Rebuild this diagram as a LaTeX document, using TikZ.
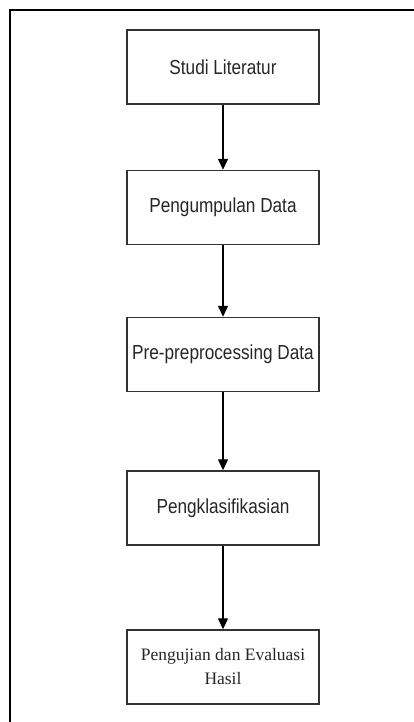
\documentclass[tikz,border=0pt]{standalone}
\usepackage{fontspec}
\setmainfont{Liberation Sans}
\newfontfamily\serifbox{Liberation Serif}
\usetikzlibrary{arrows.meta}
\newcommand{\tallt}[1]{\scalebox{1}[1.18]{#1}}
\begin{document}
\begin{tikzpicture}[x=1pt,y=-1pt,
  stepbox/.style={draw=black!80,line width=1.4pt,minimum width=192pt,minimum height=74pt,inner sep=0pt,text=black!85,font=\fontsize{17.2}{21}\selectfont,align=center},
  flow/.style={line width=1.3pt,-{Triangle[width=10pt,length=11pt]}}]
\useasboundingbox (0,0) rectangle (413,722);
\draw[line width=1.3pt] (10,740) -- (10,10) -- (430,10);
\node[stepbox] (s1) at (223,67) {\tallt{Studi Literatur}};
\node[stepbox] (s2) at (223,207.5) {\tallt{Pengumpulan Data}};
\node[stepbox] (s3) at (223,354.5) {\tallt{Pre-preprocessing Data}};
\node[stepbox] (s4) at (223,508) {\tallt{Pengklasifikasian}};
\node[stepbox,font={\serifbox\fontsize{17.5}{24}\selectfont}] (s5) at (223,667) {Pengujian dan Evaluasi\\Hasil};
\draw[flow] (s1) -- (s2);
\draw[flow] (s2) -- (s3);
\draw[flow] (s3) -- (s4);
\draw[flow] (s4) -- (s5);
\end{tikzpicture}
\end{document}
